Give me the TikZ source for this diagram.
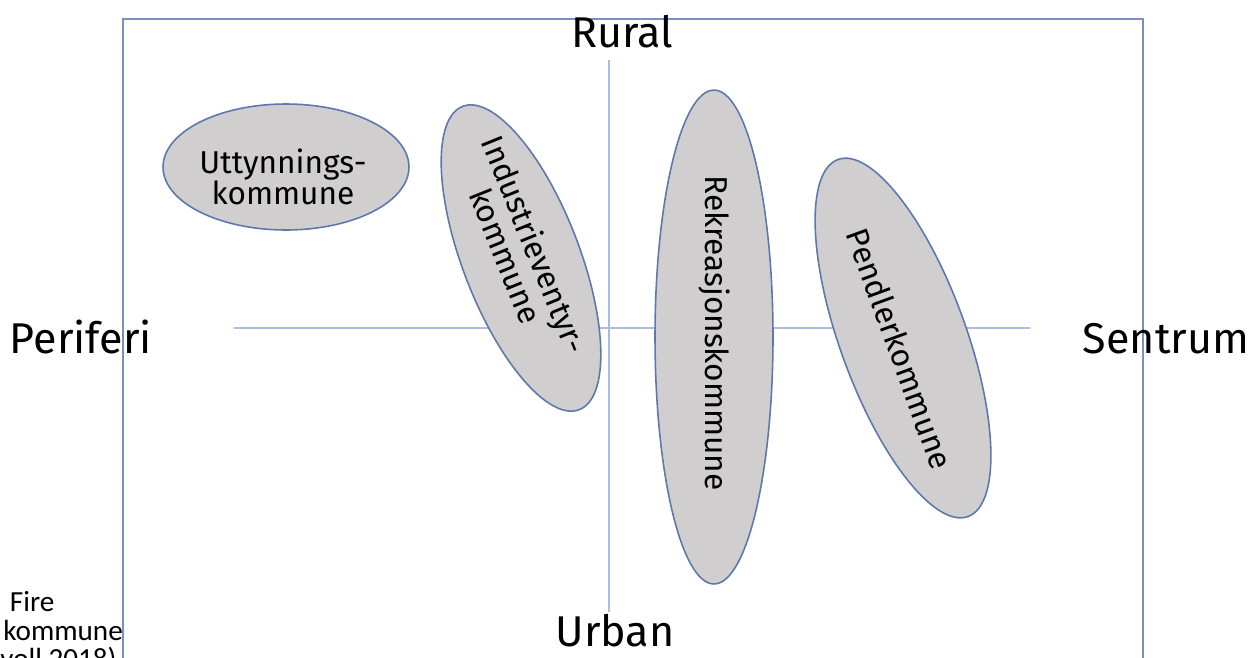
\documentclass[tikz,border=0pt]{standalone}
\usepackage{fontspec}
\setmainfont{Fira Sans}
\newfontfamily\capfont{Carlito}
\usetikzlibrary{shapes.geometric}

\definecolor{rammeblaa}{RGB}{120,144,196}
\definecolor{aksebla}{RGB}{170,190,228}
\definecolor{kantblaa}{RGB}{92,120,172}
\definecolor{fyllgraa}{RGB}{208,206,206}

\begin{document}
\begin{tikzpicture}[x=0.02cm,y=-0.02cm]

\tikzstyle{kommune}=[ellipse,draw=kantblaa,line width=0.9pt,fill=fyllgraa,inner sep=0pt]
\tikzstyle{ktekst}=[align=center,inner sep=0pt,font=\fontsize{18}{17.6}\selectfont]
\tikzstyle{akse}=[draw=aksebla,line width=0.6pt]
\tikzstyle{retning}=[font=\fontsize{24.5}{26}\selectfont,anchor=base,inner sep=0pt]
\tikzstyle{figtekst}=[anchor=base west,inner sep=0pt,font=\capfont\fontsize{16.6}{17}\selectfont]

\useasboundingbox (0,0) rectangle (1250,657);
\clip (0,0) rectangle (1250,657);

%ramme
\draw [rammeblaa,line width=1.1pt] (123,700) -- (123,19) -- (1143,19) -- (1143,700);

%akser
\coordinate (ak1) at (234,328);
\coordinate (ak2) at (1030,328);
\coordinate (ak3) at (609,60);
\coordinate (ak4) at (609,612);
\path [akse] (ak1) -- (ak2);
\path [akse] (ak3) -- (ak4);

%kommunetyper
\node [kommune,minimum width=4.92cm,minimum height=2.52cm] (utt) at (286,167) {};
\node [kommune,rotate=-69,minimum width=6.5cm,minimum height=2.34cm] (ind) at (521,258) {};
\node [kommune,rotate=-90,minimum width=9.88cm,minimum height=2.36cm] (rek) at (714,337) {};
\node [kommune,rotate=-70,minimum width=7.6cm,minimum height=2.52cm] (pen) at (903,338) {};

\node [ktekst] (utt-t) at (283,177) {Uttynnings-\\kommune};
\node [ktekst,rotate=-68] (ind-t) at (521,250) {Industrieventyr-\\kommune};
\node [ktekst,rotate=-90] (rek-t) at (714,333) {Rekreasjonskommune};
\node [ktekst,rotate=-70] (pen-t) at (900,349) {Pendlerkommune};

%tekst
\node [retning] (rural) at (622,47) {Rural};
\node [retning] (urban) at (615,646) {Urban};
\node [retning] (perif) at (81,353) {Periferi};
\node [retning] (sentr) at (1166,353) {Sentrum};

\begin{scope}
\clip (0,0) rectangle (122,657);
\node [figtekst] (fig1) at (3,611) {\ Fire};
\node [figtekst] (fig2) at (3,640) {kommune};
\node [figtekst] (fig3) at (0,668) {voll 2018)};
\end{scope}

\end{tikzpicture}
\end{document}
